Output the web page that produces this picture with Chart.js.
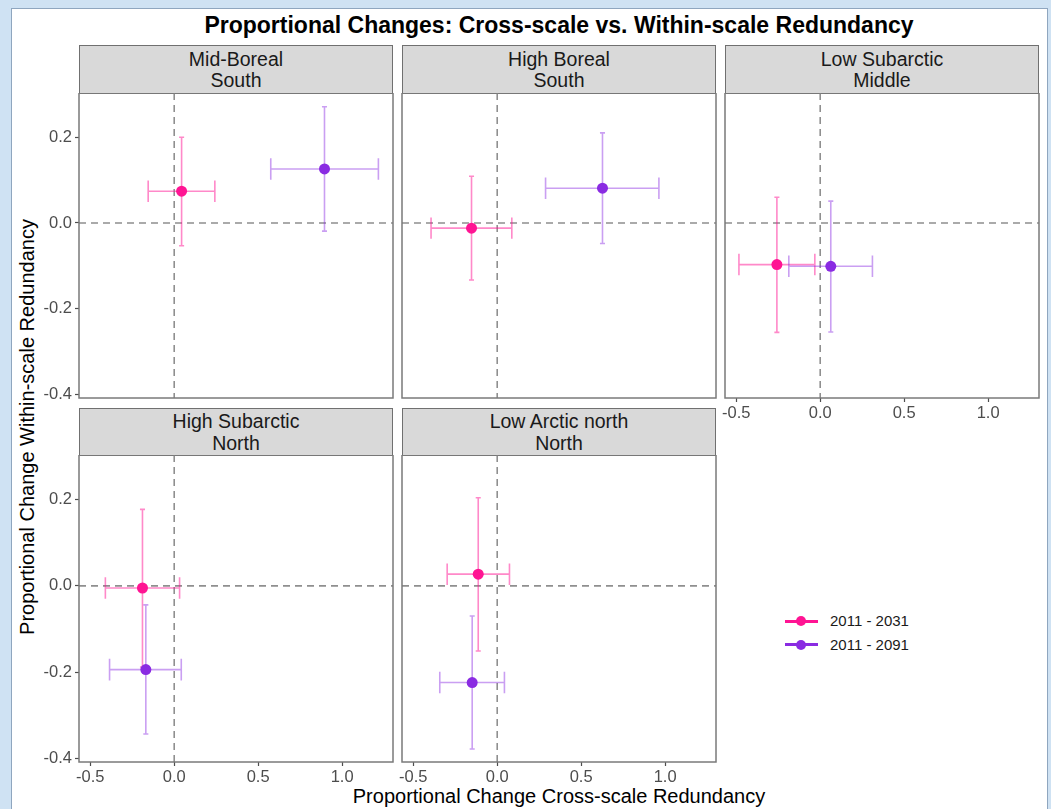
<!DOCTYPE html>
<html><head><meta charset="utf-8">
<script src="https://cdn.jsdelivr.net/npm/chart.js@4.4.0/dist/chart.umd.min.js"></script>
<style>
html,body{margin:0;padding:0;}
body{width:1051px;height:809px;background:#cfe2f3;position:relative;overflow:hidden;font-family:"Liberation Sans",Arial,sans-serif;}
#frame{position:absolute;left:11px;top:8px;width:1035px;height:820px;background:#fff;border:1px solid #8fa6bf;}
.strip{position:absolute;background:#d9d9d9;border:1.5px solid #707070;box-sizing:border-box;display:flex;flex-direction:column;justify-content:center;align-items:center;font-size:19.5px;color:#1a1a1a;line-height:21.5px;padding-top:1px;}
canvas{position:absolute;}
#title{position:absolute;left:0;width:1118px;top:11px;text-align:center;font-weight:bold;font-size:23px;line-height:28px;color:#000;}
#xtitle{position:absolute;left:0;width:1118px;top:784px;text-align:center;font-size:20px;line-height:24px;color:#000;}
#ytitle{position:absolute;left:27px;top:427px;width:600px;margin-left:-300px;margin-top:-12px;text-align:center;font-size:20px;line-height:24px;color:#000;transform:rotate(-90deg);}
.leg{position:absolute;left:785px;height:20px;}
.leg .ln{position:absolute;left:0;top:8.5px;width:33px;height:3px;}
.leg .dt{position:absolute;left:11px;top:5px;width:10px;height:10px;border-radius:50%;}
.leg .tx{position:absolute;left:45px;top:0;font-size:15px;line-height:20px;color:#1a1a1a;white-space:nowrap;}
</style>
</head>
<body>
<div id="frame"></div>
<div id="title">Proportional Changes: Cross-scale vs. Within-scale Redundancy</div>
<div id="xtitle">Proportional Change Cross-scale Redundancy</div>
<div id="ytitle">Proportional Change Within-scale Redundancy</div>
<script>
// ---------- data ----------
const regions = ["Mid-Boreal\nSouth", "High Boreal\nSouth", "Low Subarctic\nMiddle", "High Subarctic\nNorth", "Low Arctic north\nNorth"];
const periods = ["2011 - 2031", "2011 - 2091"];
const cross2031    = [0.044, -0.153, -0.258, -0.189, -0.113];
const crossLo2031  = [-0.155, -0.394, -0.484, -0.410, -0.298];
const crossHi2031  = [0.242, 0.087, -0.032, 0.032, 0.073];
const within2031   = [0.074, -0.012, -0.097, -0.005, 0.027];
const withinLo2031 = [-0.053, -0.133, -0.255, -0.188, -0.151];
const withinHi2031 = [0.200, 0.109, 0.060, 0.177, 0.204];
const cross2091    = [0.895, 0.627, 0.063, -0.169, -0.149];
const crossLo2091  = [0.575, 0.288, -0.187, -0.385, -0.342];
const crossHi2091  = [1.216, 0.963, 0.311, 0.042, 0.043];
const within2091   = [0.126, 0.081, -0.101, -0.194, -0.224];
const withinLo2091 = [-0.019, -0.048, -0.254, -0.343, -0.378];
const withinHi2091 = [0.271, 0.210, 0.051, -0.044, -0.070];
const xTicks = [-0.5, 0, 0.5, 1.0];
const xTickLabels = ["-0.5", "0.0", "0.5", "1.0"];
const yTicks = [-0.4, -0.2, 0, 0.2];
const yTickLabels = ["-0.4", "-0.2", "0.0", "0.2"];

// ---------- style / layout ----------
const colors = ["#FF1493", "#8A2BE2"];
const barColors = ["rgba(255,20,147,0.5)", "rgba(138,43,226,0.45)"];
const FONT = "'Liberation Sans', Arial, sans-serif";
const X_RANGE = [-0.567, 1.303];
const Y_RANGE = [-0.408, 0.303];
const CAP_X = 0.015;  // half-width of vertical error bar caps (x units)
const CAP_Y = 0.025;  // half-height of horizontal error bar caps (y units)
const geo = [
  {L:79,  T:93,  W:314, H:305, xt:false, yt:true,  sT:45},
  {L:402, T:93,  W:314, H:305, xt:false, yt:false, sT:45},
  {L:725, T:93,  W:314, H:305, xt:true,  yt:false, sT:45},
  {L:79,  T:455, W:314, H:307, xt:true,  yt:true,  sT:408},
  {L:402, T:455, W:314, H:307, xt:true,  yt:false, sT:408}
];
const AXW = 60, AXH = 34, PADR = 4;

const series = [
  {x:cross2031, xl:crossLo2031, xh:crossHi2031, y:within2031, yl:withinLo2031, yh:withinHi2031},
  {x:cross2091, xl:crossLo2091, xh:crossHi2091, y:within2091, yl:withinLo2091, yh:withinHi2091}
];

function zeroPad(sc) { sc.paddingTop = 0; sc.paddingBottom = 0; sc.paddingLeft = 0; sc.paddingRight = 0; }

const facetPlugin = {
  id: 'facet',
  beforeDatasetsDraw(chart) {
    const {ctx, chartArea: a, scales: {x, y}} = chart;
    ctx.save();
    ctx.strokeStyle = '#8f8f8f';
    ctx.lineWidth = 1.6;
    ctx.setLineDash([7, 5]);
    const x0 = x.getPixelForValue(0), y0 = y.getPixelForValue(0);
    ctx.beginPath(); ctx.moveTo(x0, a.top); ctx.lineTo(x0, a.bottom); ctx.stroke();
    ctx.beginPath(); ctx.moveTo(a.left, y0); ctx.lineTo(a.right, y0); ctx.stroke();
    ctx.setLineDash([]);
    ctx.lineWidth = 1.6;
    chart.data.datasets.forEach((ds, di) => {
      ctx.strokeStyle = barColors[di];
      ds.data.forEach(p => {
        const px = x.getPixelForValue(p.x), py = y.getPixelForValue(p.y);
        const xl = x.getPixelForValue(p.xMin), xh = x.getPixelForValue(p.xMax);
        const yl = y.getPixelForValue(p.yMin), yh = y.getPixelForValue(p.yMax);
        const cw = x.getPixelForValue(CAP_X) - x.getPixelForValue(0);
        const ch = y.getPixelForValue(0) - y.getPixelForValue(CAP_Y);
        ctx.beginPath();
        ctx.moveTo(px, yl); ctx.lineTo(px, yh);
        ctx.moveTo(px - cw, yl); ctx.lineTo(px + cw, yl);
        ctx.moveTo(px - cw, yh); ctx.lineTo(px + cw, yh);
        ctx.moveTo(xl, py); ctx.lineTo(xh, py);
        ctx.moveTo(xl, py - ch); ctx.lineTo(xl, py + ch);
        ctx.moveTo(xh, py - ch); ctx.lineTo(xh, py + ch);
        ctx.stroke();
      });
    });
    ctx.restore();
  },
  afterDraw(chart) {
    const {ctx, chartArea: a} = chart;
    ctx.save();
    ctx.strokeStyle = '#7a7a7a';
    ctx.lineWidth = 1.5;
    ctx.strokeRect(a.left, a.top, a.right - a.left, a.bottom - a.top);
    ctx.restore();
  }
};

geo.forEach((g, i) => {
  const s = document.createElement('div');
  s.className = 'strip';
  s.style.left = g.L + 'px'; s.style.top = g.sT + 'px';
  s.style.width = g.W + 'px'; s.style.height = (g.T - g.sT + 1) + 'px';
  regions[i].split('\n').forEach(t => { const d = document.createElement('div'); d.textContent = t; s.appendChild(d); });
  document.body.appendChild(s);

  const cv = document.createElement('canvas');
  cv.width = g.W + AXW + PADR; cv.height = g.H + AXH;
  cv.style.left = (g.L - AXW) + 'px'; cv.style.top = g.T + 'px';
  cv.style.width = cv.width + 'px'; cv.style.height = cv.height + 'px';
  document.body.appendChild(cv);

  const datasets = series.map((sr, k) => ({
    label: periods[k],
    data: [{x: sr.x[i], y: sr.y[i], xMin: sr.xl[i], xMax: sr.xh[i], yMin: sr.yl[i], yMax: sr.yh[i]}],
    backgroundColor: colors[k], borderColor: colors[k],
    pointRadius: 5.5, pointBorderWidth: 0, pointHoverRadius: 5.5
  }));

  new Chart(cv, {
    type: 'scatter',
    data: {datasets},
    plugins: [facetPlugin],
    options: {
      responsive: false, animation: false, devicePixelRatio: 1,
      layout: {autoPadding: false, padding: {left: 0, right: PADR, top: 0, bottom: 0}},
      plugins: {legend: {display: false}, tooltip: {enabled: false}, title: {display: false}},
      scales: {
        x: {
          type: 'linear', min: X_RANGE[0], max: X_RANGE[1],
          afterBuildTicks: sc => { sc.ticks = xTicks.map(v => ({value: v})); },
          afterFit: sc => { sc.height = AXH; zeroPad(sc); },
          ticks: {display: g.xt, autoSkip: false, maxRotation: 0, padding: 2,
                  color: '#4d4d4d', font: {family: FONT, size: 16.5},
                  callback: (v, idx) => xTickLabels[idx]},
          grid: {display: g.xt, drawOnChartArea: false, drawTicks: true, tickLength: 4, tickColor: '#4d4d4d', tickWidth: 1.2},
          border: {display: false}
        },
        y: {
          type: 'linear', min: Y_RANGE[0], max: Y_RANGE[1],
          afterBuildTicks: sc => { sc.ticks = yTicks.map(v => ({value: v})); },
          afterFit: sc => { sc.width = AXW; zeroPad(sc); },
          ticks: {display: g.yt, autoSkip: false, padding: 3,
                  color: '#4d4d4d', font: {family: FONT, size: 16.5},
                  callback: (v, idx) => yTickLabels[idx]},
          grid: {display: g.yt, drawOnChartArea: false, drawTicks: true, tickLength: 4, tickColor: '#4d4d4d', tickWidth: 1.2},
          border: {display: false}
        }
      }
    }
  });
});

periods.forEach((p, k) => {
  const d = document.createElement('div');
  d.className = 'leg';
  d.style.top = (611 + k * 23.6) + 'px';
  d.innerHTML = '<div class="ln" style="background:' + colors[k] + '"></div><div class="dt" style="background:' + colors[k] + '"></div><div class="tx"></div>';
  d.querySelector('.tx').textContent = p;
  document.body.appendChild(d);
});
</script>
</body></html>
